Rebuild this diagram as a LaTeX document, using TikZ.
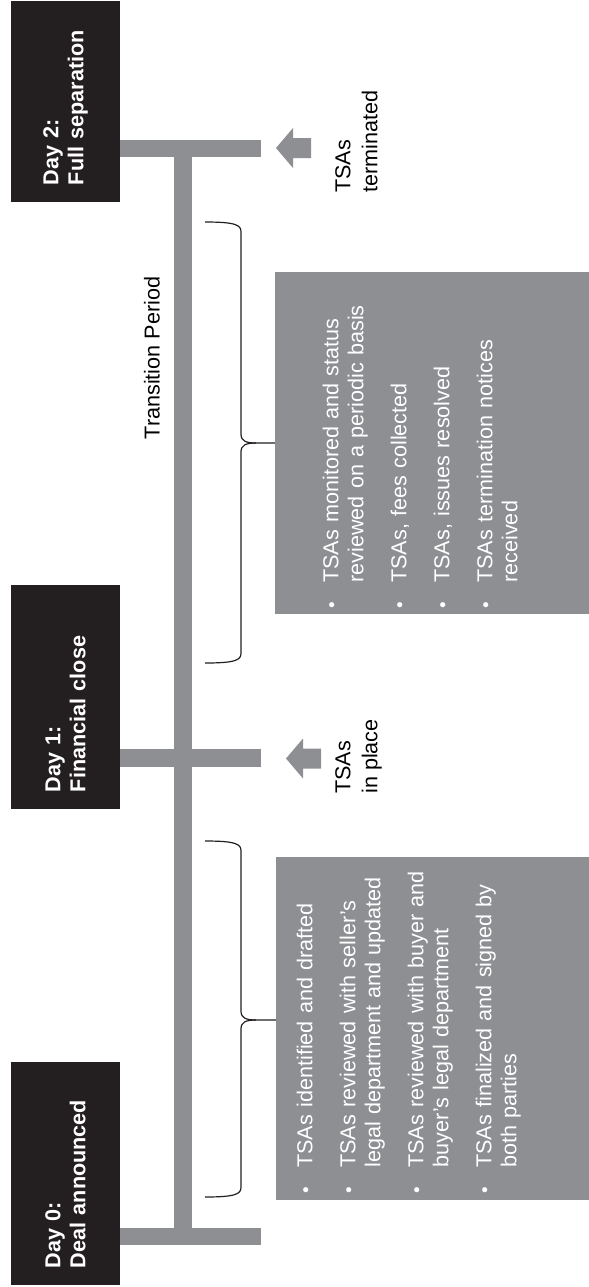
\documentclass[tikz,border=0pt]{standalone}
\usepackage{fontspec}
\setmainfont{Liberation Sans}
\definecolor{bargray}{RGB}{142,143,147}
\definecolor{boxblack}{RGB}{35,31,32}
\newcommand\tsafont{\fontsize{10.8}{12.5}\selectfont}
\newenvironment{tsalist}{\begin{list}{\raisebox{0.2pt}{\fontsize{9.5}{9.5}\selectfont\textbullet}}{%
  \setlength\leftmargin{14pt}\setlength\labelsep{9.5pt}\setlength\labelwidth{4pt}%
  \setlength\itemsep{9pt}\setlength\topsep{0pt}\setlength\partopsep{0pt}\setlength\parsep{0pt}}\raggedright}{\end{list}}
\begin{document}
\begin{tikzpicture}[x=0.5pt,y=-0.5pt,
  milestone/.style={rotate=90,fill=boxblack,text=white,font=\tsafont\bfseries,align=left,
    inner xsep=8.5pt,inner ysep=0pt,minimum height=54.5pt},
  bar/.style={draw=bargray,line width=8.75pt},
  panel/.style={fill=bargray,inner sep=0pt,minimum width=156.5pt,minimum height=171.5pt,anchor=north west},
  listtext/.style={rotate=90,text=white,font=\tsafont,text width=175pt,inner sep=0pt,anchor=north west},
  tag/.style={rotate=90,font=\fontsize{10.8}{13.5}\selectfont,align=left,inner sep=0pt,anchor=north west},
  brace/.style={draw=boxblack,line width=0.6pt}]
\useasboundingbox (0,0) rectangle (589,1287);
% milestones
\node[milestone,text width=83.5pt] (day2) at (65.5,101.5) {Day 2:\\Full separation};
\node[milestone,text width=95pt] (day1) at (65.5,697) {Day 1:\\Financial close};
\node[milestone,text width=94.5pt] (day0) at (65.5,1173.5) {Day 0:\\Deal announced};
% timeline
\coordinate (t2) at (183,148.5);
\coordinate (t1) at (183,758);
\coordinate (t0) at (183,1236.5);
\draw[bar] (t2) -- (t0);
\draw[bar] (day2.south |- t2) -- ++(141,0);
\draw[bar] (day1.south |- t1) -- ++(141,0);
\draw[bar] (day0.south |- t0) -- ++(141,0);
% arrows and their labels
\fill[bargray] (276,148) -- ++(17,-20) -- ++(0,10) -- ++(18,0) -- ++(0,20) -- ++(-18,0) -- ++(0,10) -- cycle;
\fill[bargray] (286,758.5) -- ++(17,-20) -- ++(0,10) -- ++(18,0) -- ++(0,20) -- ++(-18,0) -- ++(0,10) -- cycle;
\node[tag] (ended) at (335,193) {TSAs\\terminated};
\node[tag] (inplace) at (335,794) {TSAs\\in place};
\node[rotate=90,font=\tsafont] (period) at (152,358) {Transition Period};
% braces
\draw[brace] (205,222) .. controls (236,222) and (241,225) .. (241,232) -- (241,434)
  .. controls (241,441) and (246,443) .. (256,443) -- (277,443);
\draw[brace] (205,663) .. controls (236,663) and (241,660) .. (241,653) -- (241,452)
  .. controls (241,445) and (246,443) .. (256,443);
\draw[brace] (205,841) .. controls (236,841) and (241,844) .. (241,851) -- (241,1011)
  .. controls (241,1018) and (246,1020) .. (256,1020) -- (276,1020);
\draw[brace] (205,1197) .. controls (236,1197) and (241,1194) .. (241,1187) -- (241,1029)
  .. controls (241,1022) and (246,1020) .. (256,1020);
% panels
\node[panel,minimum width=157pt,minimum height=171pt] (monitor) at (275,272) {};
\node[panel] (prep) at (276,857) {};
\node[listtext] (monitorlist) at ([shift={(38,339)}]monitor.north west) {\begin{tsalist}
  \item TSAs monitored and status\newline reviewed on a periodic basis
  \item TSAs, fees collected
  \item TSAs, issues resolved
  \item TSAs termination notices\newline received
\end{tsalist}};
\node[listtext] (preplist) at ([shift={(11,339)}]prep.north west) {\begin{tsalist}
  \item TSAs identified and drafted
  \item TSAs reviewed with seller's\newline legal department and updated
  \item TSAs reviewed with buyer and\newline buyer's legal department
  \item TSAs finalized and signed by\newline both parties
\end{tsalist}};
\end{tikzpicture}
\end{document}
